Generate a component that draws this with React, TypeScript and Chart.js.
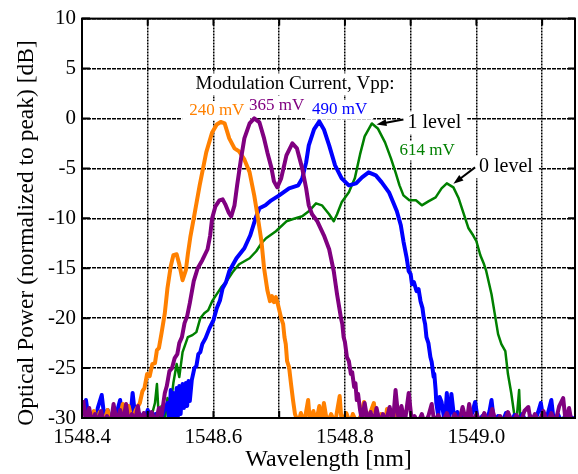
import { useEffect, useRef } from "react";
import { Chart, registerables } from "chart.js";

Chart.register(...registerables);

const SERIF = '"Liberation Serif", "Times New Roman", Times, serif';

// Axis ticks
const xGridTicks = [1548.4, 1548.5, 1548.6, 1548.7, 1548.8, 1548.9, 1549.0, 1549.1];
const xLabelTicks = [1548.4, 1548.6, 1548.8, 1549.0];
const yTicks = [10, 5, 0, -5, -10, -15, -20, -25, -30];

// Series names and colours (modulation current, Vpp)
const seriesNames = ["240 mV", "365 mV", "490 mV", "614 mV"];
const seriesColors = ["#ff8000", "#800080", "#0000ff", "#008000"];

// Spectra: [wavelength nm, power dB normalized to peak]
const spectrum240: [number, number][] = [
  [1548.409, -29.6], [1548.414, -30.5], [1548.418, -29.3], [1548.423, -30.5], [1548.427, -29.4],
  [1548.433, -30.5], [1548.439, -29.2], [1548.444, -30.5], [1548.45, -29.5], [1548.456, -30.4],
  [1548.462, -28.6], [1548.467, -30.3], [1548.471, -28.8], [1548.476, -30.2], [1548.482, -29.2],
  [1548.488, -28.5], [1548.492, -27.3], [1548.495, -27.0], [1548.499, -25.6], [1548.503, -25.8],
  [1548.507, -24.6], [1548.511, -24.5], [1548.514, -23.2], [1548.517, -23.0], [1548.521, -21.5],
  [1548.526, -19.5], [1548.53, -17.0], [1548.535, -14.8], [1548.539, -13.7],
  [1548.544, -13.6], [1548.548, -14.6], [1548.553, -16.2], [1548.558, -15.2], [1548.561, -13.6],
  [1548.565, -11.8], [1548.57, -10.0], [1548.579, -6.7], [1548.589, -3.4], [1548.598, -1.4],
  [1548.605, -0.6], [1548.611, -0.35], [1548.617, -0.5], [1548.624, -2.0], [1548.632, -3.0],
  [1548.639, -3.3], [1548.647, -4.1], [1548.655, -5.4], [1548.662, -7.7], [1548.667, -9.7],
  [1548.673, -12.3], [1548.677, -15.0], [1548.682, -17.2], [1548.686, -18.3], [1548.689, -17.8],
  [1548.692, -18.4], [1548.695, -17.9], [1548.698, -18.6], [1548.703, -20.0], [1548.706, -20.6],
  [1548.708, -21.9], [1548.71, -22.6], [1548.712, -24.3], [1548.715, -24.9], [1548.718, -26.6],
  [1548.721, -28.2], [1548.724, -29.6], [1548.729, -30.5], [1548.733, -29.5], [1548.738, -30.5],
  [1548.744, -28.2], [1548.747, -30.5], [1548.752, -29.3], [1548.756, -30.5], [1548.761, -28.8],
  [1548.765, -30.5], [1548.768, -28.5], [1548.773, -30.5], [1548.779, -29.6], [1548.785, -30.5],
  [1548.792, -27.8], [1548.795, -30.5], [1548.802, -29.5], [1548.808, -30.5], [1548.812, -29.6],
  [1548.818, -30.5], [1548.824, -29.8], [1548.829, -28.4], [1548.833, -30.5], [1548.839, -29.4],
  [1548.844, -28.5], [1548.848, -30.5], [1548.855, -29.6], [1548.861, -30.5], [1548.864, -29.1],
  [1548.87, -30.5], [1548.876, -29.4], [1548.88, -30.5], [1548.885, -29.0], [1548.889, -30.5],
];

const spectrum365: [number, number][] = [
  [1548.402, -28.2], [1548.406, -30.5], [1548.411, -29.0], [1548.415, -30.5], [1548.42, -29.6],
  [1548.424, -30.5], [1548.429, -29.3], [1548.433, -30.5], [1548.438, -29.8], [1548.444, -30.5],
  [1548.448, -28.6], [1548.453, -30.5], [1548.458, -29.2], [1548.462, -30.5], [1548.467, -28.6],
  [1548.471, -30.5], [1548.476, -29.6], [1548.48, -30.5], [1548.485, -28.8], [1548.489, -30.5],
  [1548.494, -29.5], [1548.5, -30.5], [1548.506, -29.4], [1548.512, -30.5], [1548.517, -29.0],
  [1548.521, -29.8], [1548.526, -27.5], [1548.529, -26.8], [1548.533, -25.3], [1548.537, -25.0],
  [1548.541, -24.0], [1548.545, -23.6], [1548.548, -22.5], [1548.552, -21.9], [1548.556, -20.5],
  [1548.56, -19.8], [1548.564, -18.5], [1548.57, -16.3], [1548.576, -15.0], [1548.583, -14.2],
  [1548.591, -13.1], [1548.595, -11.7], [1548.598, -10.0], [1548.603, -8.8], [1548.609, -8.2],
  [1548.614, -8.1], [1548.618, -8.6], [1548.623, -9.4], [1548.627, -9.8], [1548.632, -8.7],
  [1548.636, -6.7], [1548.642, -4.0], [1548.647, -2.0], [1548.655, -0.5], [1548.662, 0.0],
  [1548.67, -0.4], [1548.677, -2.0], [1548.682, -3.4], [1548.688, -4.9], [1548.692, -6.3],
  [1548.697, -6.9], [1548.703, -6.0], [1548.711, -3.7], [1548.72, -2.5], [1548.727, -3.0],
  [1548.735, -5.0], [1548.741, -7.0], [1548.745, -8.7], [1548.75, -9.6], [1548.758, -10.3],
  [1548.768, -11.7], [1548.776, -13.1], [1548.783, -15.3], [1548.788, -17.6], [1548.794, -20.0],
  [1548.796, -20.6], [1548.798, -21.9], [1548.8, -22.4], [1548.803, -23.9], [1548.806, -24.3],
  [1548.809, -25.6], [1548.811, -25.4], [1548.814, -26.9], [1548.816, -26.5], [1548.818, -28.2],
  [1548.82, -27.6], [1548.823, -29.2], [1548.826, -30.3], [1548.83, -28.5], [1548.835, -30.5], [1548.839, -29.4],
  [1548.844, -30.5], [1548.848, -29.0], [1548.853, -30.5], [1548.858, -29.6], [1548.862, -30.5],
  [1548.868, -28.9], [1548.873, -30.5], [1548.877, -27.2], [1548.882, -30.5], [1548.886, -28.8],
  [1548.891, -30.5], [1548.897, -27.5], [1548.902, -30.5], [1548.906, -29.8], [1548.911, -30.5],
  [1548.917, -29.6], [1548.921, -30.5], [1548.927, -29.8], [1548.932, -28.6], [1548.936, -30.5],
  [1548.942, -29.7], [1548.948, -30.5], [1548.955, -29.5], [1548.961, -30.5], [1548.967, -29.6],
  [1548.973, -30.5], [1548.979, -28.9], [1548.985, -30.5], [1548.989, -28.6], [1548.994, -30.5],
  [1549.0, -29.6], [1549.006, -30.5], [1549.012, -29.5], [1549.018, -30.5], [1549.024, -29.1],
  [1549.03, -30.5], [1549.036, -29.8], [1549.042, -30.5], [1549.048, -29.4], [1549.055, -30.5],
  [1549.061, -29.7], [1549.067, -30.5], [1549.073, -29.3], [1549.079, -28.9], [1549.083, -30.5],
  [1549.089, -29.6], [1549.095, -30.5], [1549.102, -29.3], [1549.108, -30.5], [1549.114, -29.5],
  [1549.12, -30.5], [1549.126, -28.8], [1549.132, -28.0], [1549.136, -30.5], [1549.141, -29.0],
  [1549.145, -30.5],
];

const spectrum490: [number, number][] = [
  [1548.403, -29.5], [1548.406, -28.2], [1548.411, -30.5], [1548.415, -29.6], [1548.42, -30.5],
  [1548.424, -29.0], [1548.43, -27.7], [1548.435, -30.5], [1548.439, -29.2], [1548.445, -30.5],
  [1548.452, -29.7], [1548.458, -28.2], [1548.462, -30.5], [1548.468, -29.4], [1548.473, -30.5],
  [1548.477, -27.5], [1548.482, -30.5], [1548.488, -29.6], [1548.494, -30.5], [1548.5, -29.2],
  [1548.506, -30.5], [1548.512, -29.6], [1548.518, -30.5], [1548.524, -29.4], [1548.53, -28.5],
  [1548.533, -30.3], [1548.535, -27.2], [1548.537, -30.3], [1548.539, -27.5], [1548.542, -30.2],
  [1548.544, -27.0], [1548.546, -29.8], [1548.548, -26.8], [1548.55, -29.6], [1548.553, -26.6],
  [1548.555, -29.0], [1548.558, -26.5], [1548.56, -28.8], [1548.562, -26.3], [1548.564, -28.3],
  [1548.567, -26.2], [1548.571, -25.0], [1548.574, -24.8], [1548.577, -23.6], [1548.58, -23.4],
  [1548.583, -22.6], [1548.588, -22.0], [1548.594, -21.0], [1548.6, -20.2], [1548.605, -19.0],
  [1548.61, -18.2], [1548.614, -17.0], [1548.619, -16.4], [1548.624, -15.3],
  [1548.635, -14.0], [1548.647, -13.0], [1548.656, -11.7], [1548.664, -10.0], [1548.67, -9.0],
  [1548.679, -8.7], [1548.688, -8.2], [1548.7, -7.7], [1548.715, -7.0], [1548.729, -6.7],
  [1548.735, -6.0], [1548.741, -4.4], [1548.745, -2.7], [1548.753, -1.1], [1548.761, -0.3],
  [1548.768, -1.1], [1548.776, -2.7], [1548.785, -4.7], [1548.795, -6.0], [1548.806, -6.7],
  [1548.817, -6.5], [1548.826, -5.9], [1548.836, -5.4], [1548.847, -5.7], [1548.856, -6.4],
  [1548.867, -7.4], [1548.874, -8.5], [1548.879, -9.3], [1548.885, -10.7], [1548.889, -12.3],
  [1548.894, -14.0], [1548.897, -15.3], [1548.9, -15.6], [1548.902, -16.6], [1548.905, -16.4],
  [1548.909, -17.3], [1548.912, -17.1], [1548.915, -18.3], [1548.918, -19.0], [1548.92, -20.0],
  [1548.922, -20.6], [1548.924, -21.9], [1548.927, -22.5], [1548.93, -23.9], [1548.932, -24.4],
  [1548.935, -25.9], [1548.936, -25.6], [1548.938, -27.2], [1548.939, -28.5], [1548.942, -29.8],
  [1548.944, -27.9], [1548.947, -28.4], [1548.952, -30.5], [1548.955, -27.5],
  [1548.958, -30.5], [1548.962, -27.6], [1548.967, -30.5], [1548.971, -29.4], [1548.976, -30.5],
  [1548.982, -29.6], [1548.988, -30.5], [1548.994, -29.4], [1548.998, -28.4], [1549.003, -30.5],
  [1549.009, -29.8], [1549.015, -30.5], [1549.02, -29.3], [1549.023, -28.2], [1549.027, -30.5],
  [1549.033, -29.8], [1549.039, -30.5], [1549.045, -29.5], [1549.052, -30.5], [1549.058, -29.7],
  [1549.064, -30.5], [1549.07, -29.6], [1549.076, -30.5], [1549.082, -29.8], [1549.088, -30.5],
  [1549.094, -29.4], [1549.098, -28.5], [1549.103, -30.5], [1549.109, -29.5], [1549.114, -28.2],
  [1549.118, -30.5], [1549.124, -29.6], [1549.13, -30.5], [1549.136, -29.6], [1549.142, -30.5],
  [1549.147, -29.8],
];

const spectrum614: [number, number][] = [
  [1548.465, -30.5], [1548.468, -28.8], [1548.471, -30.5], [1548.503, -30.5], [1548.511, -28.5],
  [1548.514, -26.6], [1548.517, -30.2], [1548.521, -28.8], [1548.526, -30.3], [1548.53, -28.0],
  [1548.535, -28.6], [1548.539, -26.5], [1548.544, -24.6], [1548.548, -25.9], [1548.553, -23.4],
  [1548.561, -21.9], [1548.568, -21.7], [1548.574, -21.4], [1548.58, -20.0], [1548.586, -19.5],
  [1548.592, -19.2], [1548.598, -18.3], [1548.605, -17.6], [1548.612, -16.9], [1548.62, -16.3],
  [1548.629, -15.4], [1548.639, -14.6], [1548.655, -14.0], [1548.665, -13.3], [1548.673, -12.5],
  [1548.68, -12.0], [1548.695, -11.3], [1548.711, -10.3], [1548.72, -10.1], [1548.735, -9.8],
  [1548.745, -9.3], [1548.756, -8.5], [1548.765, -8.7], [1548.776, -9.6], [1548.783, -10.3],
  [1548.788, -9.6], [1548.795, -8.4], [1548.806, -7.4], [1548.815, -6.0], [1548.823, -3.6],
  [1548.83, -1.8], [1548.841, -0.5], [1548.85, -1.0], [1548.861, -2.4], [1548.87, -4.0],
  [1548.877, -5.4], [1548.883, -6.7], [1548.889, -7.7], [1548.898, -8.2], [1548.908, -8.2],
  [1548.917, -8.7], [1548.927, -8.3], [1548.938, -7.9], [1548.947, -7.0], [1548.955, -6.5],
  [1548.965, -6.9], [1548.973, -8.0], [1548.98, -9.4], [1548.988, -11.0], [1548.995, -11.7],
  [1549.0, -12.3], [1549.006, -13.7], [1549.011, -14.5], [1549.015, -15.3], [1549.023, -17.6],
  [1549.029, -20.0], [1549.033, -21.6], [1549.038, -22.6], [1549.044, -23.3], [1549.048, -25.6],
  [1549.053, -27.5], [1549.056, -28.9], [1549.059, -30.3], [1549.062, -29.5], [1549.065, -27.2],
  [1549.067, -30.5],
];

// Text notes placed in data coordinates (x: nm, y: dB at the text baseline)
const notes = [
  { text: "Modulation Current, Vpp:", x: 1548.724, y: 2.9, color: "#000", size: 19 },
  { text: seriesNames[0], x: 1548.605, y: 0.3, color: seriesColors[0], size: 17 },
  { text: seriesNames[1], x: 1548.696, y: 0.8, color: seriesColors[1], size: 17 },
  { text: seriesNames[2], x: 1548.792, y: 0.4, color: seriesColors[2], size: 17 },
  { text: "1 level", x: 1548.936, y: -1.0, color: "#000", size: 20 },
  { text: seriesNames[3], x: 1548.925, y: -3.7, color: seriesColors[3], size: 17 },
  { text: "0 level", x: 1549.045, y: -5.4, color: "#000", size: 20 },
];

const arrows = [
  { from: [1548.889, -0.1], to: [1548.848, -0.6] },
  { from: [1548.998, -4.9], to: [1548.965, -6.55] },
];

const notesPlugin = {
  id: "spectrumNotes",
  beforeDatasetsDraw(chart: any) {
    const { ctx } = chart;
    const xs = chart.scales.x;
    const ys = chart.scales.y;
    ctx.save();
    for (const n of notes) {
      ctx.font = `${n.size}px ${SERIF}`;
      const w = ctx.measureText(n.text).width;
      const px = xs.getPixelForValue(n.x);
      const py = ys.getPixelForValue(n.y);
      ctx.fillStyle = "#fff";
      ctx.fillRect(px - w / 2 - 7, py - n.size * 0.85, w + 13, n.size * 1.15);
    }
    for (const n of notes) {
      ctx.font = `${n.size}px ${SERIF}`;
      const px = xs.getPixelForValue(n.x);
      const py = ys.getPixelForValue(n.y);
      ctx.fillStyle = n.color;
      ctx.textAlign = "center";
      ctx.textBaseline = "alphabetic";
      ctx.fillText(n.text, px, py);
    }
    ctx.strokeStyle = "#000";
    ctx.fillStyle = "#000";
    ctx.lineWidth = 2;
    for (const a of arrows) {
      const x0 = xs.getPixelForValue(a.from[0]);
      const y0 = ys.getPixelForValue(a.from[1]);
      const x1 = xs.getPixelForValue(a.to[0]);
      const y1 = ys.getPixelForValue(a.to[1]);
      const ang = Math.atan2(y1 - y0, x1 - x0);
      const head = 10;
      ctx.beginPath();
      ctx.moveTo(x0, y0);
      ctx.lineTo(x1 - Math.cos(ang) * head * 0.8, y1 - Math.sin(ang) * head * 0.8);
      ctx.stroke();
      ctx.beginPath();
      ctx.moveTo(x1, y1);
      ctx.lineTo(x1 - head * Math.cos(ang) + 3.5 * Math.sin(ang), y1 - head * Math.sin(ang) - 3.5 * Math.cos(ang));
      ctx.lineTo(x1 - head * Math.cos(ang) - 3.5 * Math.sin(ang), y1 - head * Math.sin(ang) + 3.5 * Math.cos(ang));
      ctx.closePath();
      ctx.fill();
    }
    ctx.restore();
  },
  afterDraw(chart: any) {
    const { ctx, chartArea } = chart;
    const { left, right, top, bottom } = chartArea;
    const xs = chart.scales.x;
    const ys = chart.scales.y;
    ctx.save();
    ctx.strokeStyle = "#000";
    ctx.lineWidth = 2;
    ctx.beginPath();
    for (const v of xGridTicks) {
      const p = xs.getPixelForValue(v);
      ctx.moveTo(p, bottom);
      ctx.lineTo(p, bottom - 7);
      ctx.moveTo(p, top);
      ctx.lineTo(p, top + 7);
    }
    for (const v of yTicks) {
      const p = ys.getPixelForValue(v);
      ctx.moveTo(left, p);
      ctx.lineTo(left + 8, p);
      ctx.moveTo(right, p);
      ctx.lineTo(right - 7, p);
    }
    ctx.stroke();
    ctx.strokeRect(left, top, right - left, bottom - top);

    // vertical axis title
    ctx.translate(27, 233);
    ctx.rotate(-Math.PI / 2);
    ctx.font = `23.5px ${SERIF}`;
    ctx.fillStyle = "#000";
    ctx.textAlign = "center";
    ctx.textBaseline = "middle";
    ctx.fillText("Optical Power (normalized to peak) [dB]", 0, 0);
    ctx.restore();
  },
};

export default function App() {
  const canvasRef = useRef<HTMLCanvasElement | null>(null);

  useEffect(() => {
    const canvas = canvasRef.current;
    if (!canvas) return;
    const series = [spectrum614, spectrum490, spectrum240, spectrum365];
    const colorIdx = [3, 2, 0, 1];
    const chart = new Chart(canvas, {
      type: "line",
      data: {
        datasets: series.map((s, i) => ({
          label: seriesNames[colorIdx[i]],
          data: s.map(([x, y]) => ({ x, y })),
          borderColor: seriesColors[colorIdx[i]],
          borderWidth: colorIdx[i] === 3 ? 2.5 : 4,
          pointRadius: 0,
          tension: 0,
          fill: false,
          clip: 0,
          borderJoinStyle: "round" as const,
          order: 4 - i,
        })),
      },
      options: {
        responsive: false,
        animation: false,
        layout: { padding: { top: 15, right: 3, left: 0, bottom: 0 } },
        plugins: {
          legend: { display: false },
          tooltip: { enabled: false },
        },
        scales: {
          x: {
            type: "linear",
            min: 1548.4,
            max: 1549.15,
            afterBuildTicks: (s: any) => {
              s.ticks = xGridTicks.map((v) => ({ value: v }));
            },
            afterFit: (s: any) => {
              s.height = 56;
            },
            ticks: {
              autoSkip: false,
              maxRotation: 0,
              padding: 7,
              color: "#000",
              font: { family: SERIF, size: 21 },
              callback: (v: any) =>
                xLabelTicks.some((t) => Math.abs(t - Number(v)) < 1e-6) ? Number(v).toFixed(1) : "",
            },
            grid: { color: "#000", lineWidth: 1.5, drawTicks: false },
            border: { display: false, dash: [2, 1] },
          },
          y: {
            type: "linear",
            min: -30,
            max: 10,
            afterBuildTicks: (s: any) => {
              s.ticks = yTicks.map((v) => ({ value: v }));
            },
            afterFit: (s: any) => {
              s.width = 82;
            },
            ticks: {
              padding: 6,
              color: "#000",
              font: { family: SERIF, size: 21 },
            },
            grid: { color: "#000", lineWidth: 1.5, drawTicks: false },
            border: { display: false, dash: [4, 1] },
          },
        },
      },
      plugins: [notesPlugin],
    });
    return () => chart.destroy();
  }, []);

  return (
    <div style={{ position: "fixed", left: 0, top: 0, width: 578, height: 474, background: "#fff" }}>
      <canvas ref={canvasRef} width={578} height={474} style={{ display: "block" }} />
      <div
        style={{
          position: "absolute",
          left: 82,
          width: 493,
          top: 445,
          textAlign: "center",
          font: `24px ${SERIF}`,
          color: "#000",
          pointerEvents: "none",
        }}
      >
        Wavelength [nm]
      </div>
    </div>
  );
}
